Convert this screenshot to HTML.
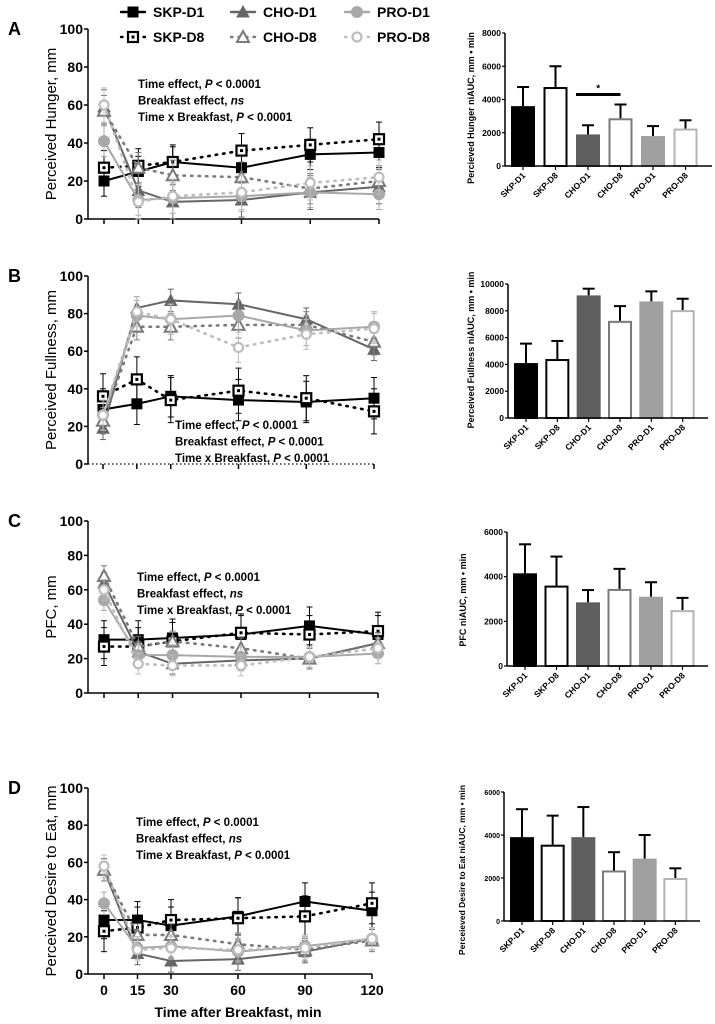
<!DOCTYPE html>
<html><head><meta charset="utf-8">
<style>
html,body{margin:0;padding:0;background:#fff;}
svg{display:block;font-family:"Liberation Sans",sans-serif;}
</style></head>
<body>
<svg id="fig" width="715" height="1024" viewBox="0 0 715 1024" xmlns="http://www.w3.org/2000/svg"></svg>
<script>
// ---- Data ----
const times = [0, 15, 30, 60, 90, 120];
const seriesNames = ["SKP-D1","SKP-D8","CHO-D1","CHO-D8","PRO-D1","PRO-D8"];
const hungerSKP1 = [20,25,30,27,34,35];
const hungerSKP8 = [27,28,30,36,39,42];
const hungerCHO1 = [59,15,9,10,14,17];
const hungerCHO8 = [57,27,23,22,16,20];
const hungerPRO1 = [41,10,11,12,14,13];
const hungerPRO8 = [60,9,12,14,19,22];
const hungerErr = [8,9,9,8,8,9];
const fullSKP1 = [29,32,36,34,33,35];
const fullSKP8 = [36,45,34,39,35,28];
const fullCHO1 = [19,83,87,85,77,61];
const fullCHO8 = [23,73,73,74,74,65];
const fullPRO1 = [26,79,77,79,71,73];
const fullPRO8 = [26,81,77,62,69,72];
const fullErr = [11,12,6,7,8,8];
const pfcSKP1 = [31,31,32,34,39,34];
const pfcSKP8 = [27,27,30,35,34,36];
const pfcCHO1 = [64,24,17,19,20,29];
const pfcCHO8 = [68,27,30,26,20,29];
const pfcPRO1 = [54,22,22,21,21,23];
const pfcPRO8 = [60,17,16,16,21,26];
const pfcErr = [11,11,6,6,6,6];
const desireSKP1 = [29,29,26,31,39,34];
const desireSKP8 = [23,25,29,30,31,38];
const desireCHO1 = [56,11,7,8,12,19];
const desireCHO8 = [56,21,21,16,13,18];
const desirePRO1 = [38,14,15,12,15,19];
const desirePRO8 = [58,13,14,13,14,19];
const desireErr = [10,11,6,6,6,6];
const yTicks = [0,20,40,60,80,100];

const barCats = ["SKP-D1","SKP-D8","CHO-D1","CHO-D8","PRO-D1","PRO-D8"];
const hungerAUC = [3600,4750,1900,2870,1800,2250];
const hungerAUCTop = [4750,6000,2450,3700,2400,2750];
const hungerAUCTicks = [0,2000,4000,6000,8000];
const fullAUC = [4100,4400,9150,7250,8700,8050];
const fullAUCTop = [5550,5750,9650,8350,9450,8900];
const fullAUCTicks = [0,2000,4000,6000,8000,10000];
const pfcAUC = [4150,3600,2850,3450,3100,2500];
const pfcAUCTop = [5450,4900,3400,4350,3750,3050];
const pfcAUCTicks = [0,2000,4000,6000];
const desireAUC = [3900,3550,3900,2350,2900,2000];
const desireAUCTop = [5200,4900,5300,3200,4000,2450];
const desireAUCTicks = [0,2000,4000,6000];

// ---- Helpers ----
const NS = "http://www.w3.org/2000/svg";
const svg = document.getElementById("fig");
function mk(tag, attrs, parent){
  const e = document.createElementNS(NS, tag);
  for (const k in attrs) e.setAttribute(k, attrs[k]);
  (parent||svg).appendChild(e);
  return e;
}
function txt(str, attrs, parent){ const t = mk("text", attrs, parent); t.textContent = str; return t; }

const styles = [
  {color:"#000", dash:null, marker:"square", fill:"#000"},
  {color:"#000", dash:"1.5 6", marker:"square", fill:"open"},
  {color:"#666", dash:null, marker:"tri", fill:"#666"},
  {color:"#7a7a7a", dash:"1.5 6", marker:"tri", fill:"open"},
  {color:"#a8a8a8", dash:null, marker:"circle", fill:"#a8a8a8"},
  {color:"#bdbdbd", dash:"1.5 6", marker:"circle", fill:"open"}
];

function drawMarker(g, st, x, y){
  const open = st.fill === "open";
  let m;
  if (st.marker === "square") {
    m = mk("rect",{x:x-5,y:y-5,width:10,height:10,fill:open?"#fff":st.color,stroke:st.color,"stroke-width":open?2.2:1},g);
    if (open) mk("rect",{x:x-1.5,y:y-1.5,width:3,height:3,fill:st.color},g);
  } else if (st.marker === "tri") {
    m = mk("polygon",{points:`${x},${y-6} ${x-6},${y+5} ${x+6},${y+5}`,fill:open?"#fff":st.color,stroke:st.color,"stroke-width":open?2:1},g);
  } else {
    m = mk("circle",{cx:x,cy:y,r:open?4.5:5.5,fill:open?"#fff":st.color,stroke:st.color,"stroke-width":open?2.2:1},g);
  }
  return m;
}

function lineChart(cfg){
  const g = mk("g",{});
  
  
  const xs = t => cfg.x0 + (cfg.x120 - cfg.x0) * t / 120;
  const ys = v => cfg.yb + (cfg.yt - cfg.yb) * v / 100;
  const L = txt(cfg.letter,{x:8,y:cfg.yt+6,"font-size":18,"font-weight":"bold"},g);
  
  
  const ya = mk("line",{x1:cfg.ax,y1:cfg.yt,x2:cfg.ax,y2:cfg.yb,stroke:"#000","stroke-width":1.5},g);
  
  
  yTicks.forEach(v=>{
    mk("line",{x1:cfg.ax-4,y1:ys(v),x2:cfg.ax,y2:ys(v),stroke:"#000","stroke-width":1.5},g);
    const tl = txt(String(v),{x:cfg.ax-5,y:ys(v)+5,"font-size":14,"font-weight":"bold","text-anchor":"end"},g);
    
    
  });
  const xa = mk("line",{x1:cfg.ax,y1:cfg.yb,x2:xs(120),y2:cfg.yb,stroke:"#000","stroke-width":cfg.dottedAxis?1.2:1.5,"stroke-dasharray":cfg.dottedAxis?"1.5 2.5":"none"},g);
  
  
  times.forEach(t=>{
    mk("line",{x1:xs(t),y1:cfg.yb,x2:xs(t),y2:cfg.yb+5,stroke:"#000","stroke-width":1.5},g);
    if (cfg.xLabels) {
      const xl = txt(String(t),{x:xs(t),y:cfg.yb+21,"font-size":14,"font-weight":"bold","text-anchor":"middle"},g);
      
      
    }
  });
  if (cfg.xLabels) {
    const xt = txt("Time after Breakfast, min",{x:(cfg.x0+cfg.x120)/2,y:cfg.yb+43,"font-size":14,"font-weight":"bold","text-anchor":"middle"},g);
    
    
  }
  const cy = (cfg.yt+cfg.yb)/2;
  const yt = txt(cfg.ytitle,{x:0,y:0,"font-size":15,"text-anchor":"middle",transform:`translate(${cfg.titleX},${cy}) rotate(-90)`},g);
  
  
  cfg.series.forEach((vals,i)=>{
    const st = styles[i];
    const sg = mk("g",{},g);
    
    
    const err = cfg.err[i];
    vals.forEach((v,j)=>{
      const x = xs(times[j]);
      mk("line",{x1:x,y1:ys(v-err),x2:x,y2:ys(v+err),stroke:st.color,"stroke-width":1},sg);
      mk("line",{x1:x-3,y1:ys(v+err),x2:x+3,y2:ys(v+err),stroke:st.color,"stroke-width":1},sg);
      mk("line",{x1:x-3,y1:ys(v-err),x2:x+3,y2:ys(v-err),stroke:st.color,"stroke-width":1},sg);
    });
    const pts = vals.map((v,j)=>`${xs(times[j])},${ys(v)}`).join(" ");
    const pl = mk("polyline",{points:pts,fill:"none",stroke:st.color,"stroke-width":st.dash?2.6:2,"stroke-dasharray":st.dash||"none","stroke-linecap":"round"},sg);
    
    
    vals.forEach((v,j)=>{
      const m = drawMarker(sg, st, xs(times[j]), ys(v));
      
      
    });
  });
  const ag = mk("g",{},g);
  
  
  cfg.notes.forEach((n,k)=>{
    const t = mk("text",{x:cfg.nx,y:cfg.ny+k*16.5,"font-size":11.5,"font-weight":"bold"},ag);
    n.forEach(part=>{
      const s = mk("tspan",part[1]?{"font-style":"italic"}:{},t);
      s.textContent = part[0];
    });
  });
}

function barChart(cfg){
  const g = mk("g",{});
  
  
  const maxV = cfg.ticks[cfg.ticks.length-1];
  const ys = v => cfg.yb + (cfg.yt - cfg.yb) * v / maxV;
  const step = (cfg.xe - cfg.ax - 12) / 6;
  const cx = i => cfg.ax + 18 + step * i;
  const bw = 24;
  const fills = ["#000","#fff","#5e5e5e","#fff","#a0a0a0","#fff"];
  const strokes = ["#000","#000","#5e5e5e","#7a7a7a","#a0a0a0","#b4b4b4"];
  cfg.vals.forEach((v,i)=>{
    const x = cx(i);
    mk("line",{x1:x,y1:ys(v),x2:x,y2:ys(cfg.tops[i]),stroke:"#000","stroke-width":2},g);
    mk("line",{x1:x-6,y1:ys(cfg.tops[i]),x2:x+6,y2:ys(cfg.tops[i]),stroke:"#000","stroke-width":2},g);
    const b = mk("rect",{x:x-bw/2+1,y:ys(v)+1,width:bw-2,height:ys(0)-ys(v)-1,fill:fills[i],stroke:strokes[i],"stroke-width":2},g);
    
    
    mk("line",{x1:x,y1:cfg.yb,x2:x,y2:cfg.yb+4,stroke:"#000","stroke-width":1.2},g);
    const lbl = txt(barCats[i],{x:0,y:0,"font-size":8.5,"font-weight":"bold","text-anchor":"end",transform:`translate(${x+3},${cfg.yb+10}) rotate(-45)`},g);
    
    
  });
  const ya = mk("line",{x1:cfg.ax,y1:cfg.yt,x2:cfg.ax,y2:cfg.yb,stroke:"#000","stroke-width":1.5},g);
  
  
  const xa = mk("line",{x1:cfg.ax,y1:cfg.yb,x2:cfg.xe,y2:cfg.yb,stroke:"#000","stroke-width":1.5},g);
  
  
  cfg.ticks.forEach(v=>{
    mk("line",{x1:cfg.ax-3,y1:ys(v),x2:cfg.ax,y2:ys(v),stroke:"#000","stroke-width":1.2},g);
    const tl = txt(String(v),{x:cfg.ax-4,y:ys(v)+3,"font-size":cfg.tickFs,"font-weight":"bold","text-anchor":"end"},g);
    
    
  });
  const yt = txt(cfg.ytitle,{x:0,y:0,"font-size":cfg.titleFs,"font-weight":"bold","text-anchor":"middle",transform:`translate(${cfg.titleX},${cfg.titleY}) rotate(-90)`},g);
  
  
  if (cfg.sig) {
    const sl = mk("line",{x1:cx(2)-12,y1:ys(cfg.sig),x2:cx(3)+0,y2:ys(cfg.sig),stroke:"#000","stroke-width":3},g);
    
    
    const st = txt("*",{x:(cx(2)+cx(3))/2-6,y:ys(cfg.sig)-3,"font-size":10,"font-weight":"bold","text-anchor":"middle"},g);
    
    
  }
}

// ---- Legend ----
const lg = mk("g",{});


const legX = [133,133,243,243,357,357];
const legY = [12,37,12,37,12,37];
seriesNames.forEach((n,i)=>{
  const st = styles[i];
  const eg = mk("g",{},lg);
  
  
  mk("line",{x1:legX[i]-12,y1:legY[i],x2:legX[i]+12,y2:legY[i],stroke:st.color,"stroke-width":2.4,"stroke-dasharray":st.dash?"1.5 6":"none","stroke-linecap":"round"},eg);
  drawMarker(eg, st, legX[i], legY[i]);
  txt(n,{x:legX[i]+20,y:legY[i]+5,"font-size":14,"font-weight":"bold"},eg);
});

const notesNS = [[["Time effect, "],["P",1],[" < 0.0001"]],[["Breakfast effect, "],["ns",1]],[["Time x Breakfast, "],["P",1],[" < 0.0001"]]];
const notesB = [[["Time effect, "],["P",1],[" < 0.0001"]],[["Breakfast effect, "],["P",1],[" < 0.0001"]],[["Time x Breakfast, "],["P",1],[" < 0.0001"]]];

lineChart({name:"hunger-line-chart",letter:"A",ax:88,yt:29,yb:219,x0:104,x120:379,titleX:56,ytitle:"Perceived Hunger, mm",
  series:[hungerSKP1,hungerSKP8,hungerCHO1,hungerCHO8,hungerPRO1,hungerPRO8],err:hungerErr,notes:notesNS,nx:138,ny:88});
lineChart({name:"fullness-line-chart",letter:"B",ax:88,yt:276,yb:464,x0:103,x120:374,titleX:56,ytitle:"Perceived Fullness, mm",dottedAxis:true,
  series:[fullSKP1,fullSKP8,fullCHO1,fullCHO8,fullPRO1,fullPRO8],err:fullErr,notes:notesB,nx:175,ny:429});
lineChart({name:"pfc-line-chart",letter:"C",ax:88,yt:521,yb:693,x0:104,x120:378,titleX:56,ytitle:"PFC, mm",
  series:[pfcSKP1,pfcSKP8,pfcCHO1,pfcCHO8,pfcPRO1,pfcPRO8],err:pfcErr,notes:notesNS,nx:137,ny:581});
lineChart({name:"desire-line-chart",letter:"D",ax:88,yt:788,yb:974,x0:104,x120:372,titleX:56,ytitle:"Perceived Desire to Eat, mm",xLabels:true,
  series:[desireSKP1,desireSKP8,desireCHO1,desireCHO8,desirePRO1,desirePRO8],err:desireErr,notes:notesNS,nx:136,ny:826});

barChart({name:"hunger-auc-bar-chart",ax:505,yt:33,yb:166,xe:712,ticks:hungerAUCTicks,vals:hungerAUC,tops:hungerAUCTop,tickFs:8.5,titleFs:9,titleX:474,titleY:108,ytitle:"Percieved Hunger niAUC, mm • min",sig:4300});
barChart({name:"fullness-auc-bar-chart",ax:508,yt:284,yb:418,xe:708,ticks:fullAUCTicks,vals:fullAUC,tops:fullAUCTop,tickFs:8.5,titleFs:9,titleX:474,titleY:350,ytitle:"Perceived Fullness niAUC, mm • min"});
barChart({name:"pfc-auc-bar-chart",ax:507,yt:532,yb:666,xe:708,ticks:pfcAUCTicks,vals:pfcAUC,tops:pfcAUCTop,tickFs:8.5,titleFs:9,titleX:466,titleY:600,ytitle:"PFC niAUC, mm • min"});
barChart({name:"desire-auc-bar-chart",ax:504,yt:792,yb:921,xe:700,ticks:desireAUCTicks,vals:desireAUC,tops:desireAUCTop,tickFs:7,titleFs:8.5,titleX:465,titleY:870,ytitle:"Perceieved Desire to Eat niAUC, mm • min"});
</script>
</body></html>
